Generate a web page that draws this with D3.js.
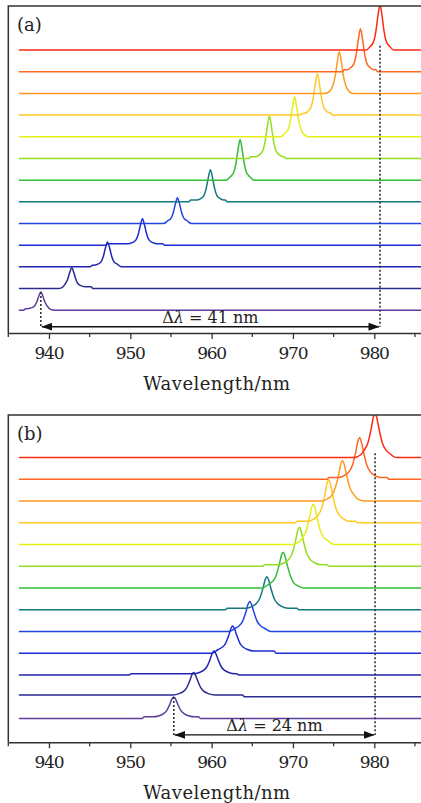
<!DOCTYPE html>
<html>
<head>
<meta charset="utf-8">
<script src="https://cdn.jsdelivr.net/npm/d3@7"></script>
<style>
  body { margin: 0; background: #fff; }
  svg { display: block; }
</style>
</head>
<body>
<script>
// wavelength range of the recorded spectra
var waveStart = 936.3, waveEnd = 988;
var majorTicks = [940, 950, 960, 970, 980];
var minorTicks = [935, 945, 955, 965, 975, 985];

// bottom trace first
var traceColors = ["#5b3c9f", "#2b2a8f", "#2326b0", "#1b2bd4", "#2244e0", "#15787f",
                   "#33bd38", "#93dd22", "#e6ef14", "#ffc925", "#ff9a22", "#ff6622", "#ff2a14"];

// panel (a)
var peakA = [939.0, 942.8, 947.2, 951.5, 955.8, 959.85, 963.5, 967.1, 970.2, 973.0, 975.7, 978.3, 980.7];
var heightA = [0.77, 0.88, 1.08, 1.15, 1.12, 1.40, 1.80, 1.88, 1.77, 1.83, 1.85, 1.89, 2.03];
var shelfA = [[937.0, 940.1, 0.07], [941.8, 945.3, 0.08], [945.2, 948.5, 0.07], [947.1, 954.1, 0.07],
              [954.3, 957.0, 0.07], [957.3, 961.8, 0.08], [962.0, 964.7, 0.07], [964.7, 969.0, 0.08],
              [968.8, 971.3, 0.07], [971.0, 974.7, 0.07], [974.7, 976.5, 0.07], [976.2, 980.3, 0.09],
              [979.2, 982.0, 0.06]];
var profileA = [[-1.7, 0], [-1.2, 0.05], [-0.8, 0.15], [-0.5, 0.4], [-0.25, 0.75], [0, 1],
                [0.25, 0.75], [0.5, 0.4], [0.8, 0.15], [1.2, 0.05], [1.7, 0]];
var spanA = [939.0, 980.7], spanTextA = "41";

// panel (b)
var peakB = [955.35, 957.8, 960.3, 962.6, 964.7, 966.8, 968.8, 970.8, 972.5, 974.4, 976.1, 978.2, 980.1];
var heightB = [0.92, 1.03, 1.05, 1.15, 1.31, 1.45, 1.58, 1.72, 1.80, 1.91, 1.80, 1.84, 1.97];
var shelfB = [[951.6, 958.5, 0.07], [936.3, 963.9, 0.08], [950.0, 963.2, 0.05], [960.5, 967.8, 0.1],
              [962.5, 967.0, 0.07], [961.8, 970.6, 0.07], [967.0, 969.9, 0.07], [966.4, 974.3, 0.07],
              [971.0, 974.3, 0.06], [970.4, 977.8, 0.07], [974.9, 977.8, 0.07], [974.3, 981.7, 0.08],
              [978.6, 981.9, 0.07]];
var profileB = [[-2.6, 0], [-1.8, 0.06], [-1.3, 0.15], [-0.9, 0.3], [-0.5, 0.62], [-0.2, 0.92], [0, 1],
                [0.2, 0.9], [0.5, 0.62], [0.9, 0.3], [1.3, 0.15], [1.8, 0.06], [2.6, 0]];
var spanB = [955.35, 980.1], spanTextB = "24";

var width = 421, height = 803;
var font = "'DejaVu Serif', serif";
var ink = "#222";

var svg = d3.select("body").append("svg")
    .attr("width", width)
    .attr("height", height);

var defs = svg.append("defs");
defs.append("marker")
    .attr("id", "head")
    .attr("viewBox", "0 0 11 8")
    .attr("refX", 10.5)
    .attr("refY", 4)
    .attr("markerWidth", 11)
    .attr("markerHeight", 8)
    .attr("markerUnits", "userSpaceOnUse")
    .attr("orient", "auto-start-reverse")
  .append("path")
    .attr("d", "M0,0L11,4L0,8Z")
    .attr("fill", "#111");

var x = d3.scaleLinear().domain([935, 987]).range([8.3, 8.3 + 52 * 8.133]);

function tracePoints(center, h, shelf, profile) {
  var lo = center + profile[0][0], hi = center + profile[profile.length - 1][0];
  function level(w) { return (w >= shelf[0] && w <= shelf[1]) ? shelf[2] : 0; }
  var pts = [[waveStart, level(waveStart)]];
  [[shelf[0] - 0.12, 0], [shelf[0] + 0.12, shelf[2]], [shelf[1] - 0.12, shelf[2]], [shelf[1] + 0.12, 0]]
    .forEach(function(p) {
      if (p[0] > waveStart && (p[0] < lo || p[0] > hi)) pts.push(p);
    });
  profile.forEach(function(p) {
    var w = center + p[0];
    pts.push([w, level(w) + h * p[1]]);
  });
  pts.push([waveEnd, level(waveEnd)]);
  pts.sort(function(a, b) { return a[0] - b[0]; });
  return pts;
}

function drawPanel(id, top, bottom, yDomain, peaks, heights, shelves, profile, span, spanText, tag) {
  var y = d3.scaleLinear().domain(yDomain).range([bottom, top]);
  var g = svg.append("g");

  defs.append("clipPath").attr("id", "clip" + id)
    .append("rect")
    .attr("x", x(935)).attr("y", top)
    .attr("width", width).attr("height", bottom - top);

  var line = d3.line()
      .x(function(d) { return x(d[0]); })
      .y(function(d, i, arr) { return y(d[1] + arr.offset); })
      .curve(d3.curveMonotoneX);

  var plot = g.append("g").attr("clip-path", "url(#clip" + id + ")");
  peaks.forEach(function(c, i) {
    var pts = tracePoints(c, heights[i], shelves[i], profile);
    pts.offset = i;
    plot.append("path")
        .attr("d", line(pts))
        .attr("fill", "none")
        .attr("stroke", traceColors[i])
        .attr("stroke-width", 1.5)
        .attr("stroke-linejoin", "round");
  });

  // frame: left and top edges
  g.append("path")
      .attr("d", "M" + x(935) + "," + bottom + "V" + top + "H" + (width + 5))
      .attr("fill", "none")
      .attr("stroke", "#333")
      .attr("stroke-width", 1.5);

  // x axis
  var axis = g.append("g")
      .attr("transform", "translate(0," + bottom + ")")
      .call(d3.axisBottom(x).tickValues(majorTicks).tickSize(6).tickSizeOuter(0).tickPadding(8).tickFormat(d3.format("d")));
  axis.select(".domain").attr("stroke", "#333").attr("stroke-width", 1.5);
  axis.selectAll(".tick line").attr("stroke", "#333").attr("stroke-width", 1.3);
  axis.selectAll(".tick text")
      .attr("font-family", font)
      .attr("font-size", 17)
      .attr("textLength", 30)
      .attr("fill", ink);
  axis.selectAll(".minor")
      .data(minorTicks)
    .enter().append("line")
      .attr("class", "minor")
      .attr("x1", function(d) { return x(d); })
      .attr("x2", function(d) { return x(d); })
      .attr("y1", 0).attr("y2", 4)
      .attr("stroke", "#333")
      .attr("stroke-width", 1.3);

  g.append("text")
      .attr("x", 216.7)
      .attr("y", bottom + 56.5)
      .attr("text-anchor", "middle")
      .attr("font-family", font)
      .attr("font-size", 18)
      .attr("textLength", 147)
      .attr("fill", ink)
      .text("Wavelength/nm");

  g.append("text")
      .attr("x", 17)
      .attr("y", top + 24.5)
      .attr("font-family", font)
      .attr("font-size", 18)
      .attr("fill", ink)
      .text(tag);

  // Δλ marker
  var arrowY = y(-0.76);
  var dotted = [[span[0], heights[0] + shelves[0][2]], [span[1], peaks.length - 1 + 0.2]];
  dotted.forEach(function(d) {
    g.append("line")
        .attr("x1", x(d[0])).attr("x2", x(d[0]))
        .attr("y1", y(d[1])).attr("y2", arrowY)
        .attr("stroke", "#333")
        .attr("stroke-width", 1.6)
        .attr("stroke-dasharray", "2,2");
  });
  g.append("line")
      .attr("x1", x(span[0]) + 1).attr("x2", x(span[1]) - 1)
      .attr("y1", arrowY).attr("y2", arrowY)
      .attr("stroke", "#111")
      .attr("stroke-width", 1.4)
      .attr("marker-start", "url(#head)")
      .attr("marker-end", "url(#head)");

  var lbl = g.append("text")
      .attr("x", (x(span[0]) + x(span[1])) / 2)
      .attr("y", arrowY - 3.5)
      .attr("text-anchor", "middle")
      .attr("font-family", font)
      .attr("font-size", 16)
      .attr("fill", ink);
  lbl.append("tspan").text("\u0394");
  lbl.append("tspan").attr("font-style", "italic").text("\u03bb");
  lbl.append("tspan").text(" = " + spanText + " nm");
}

drawPanel("a", 6, 333, [-1.05, 14.03], peakA, heightA, shelfA, profileA, spanA, spanTextA, "(a)");
drawPanel("b", 415, 742.3, [-1.1, 13.96], peakB, heightB, shelfB, profileB, spanB, spanTextB, "(b)");
</script>
</body>
</html>
